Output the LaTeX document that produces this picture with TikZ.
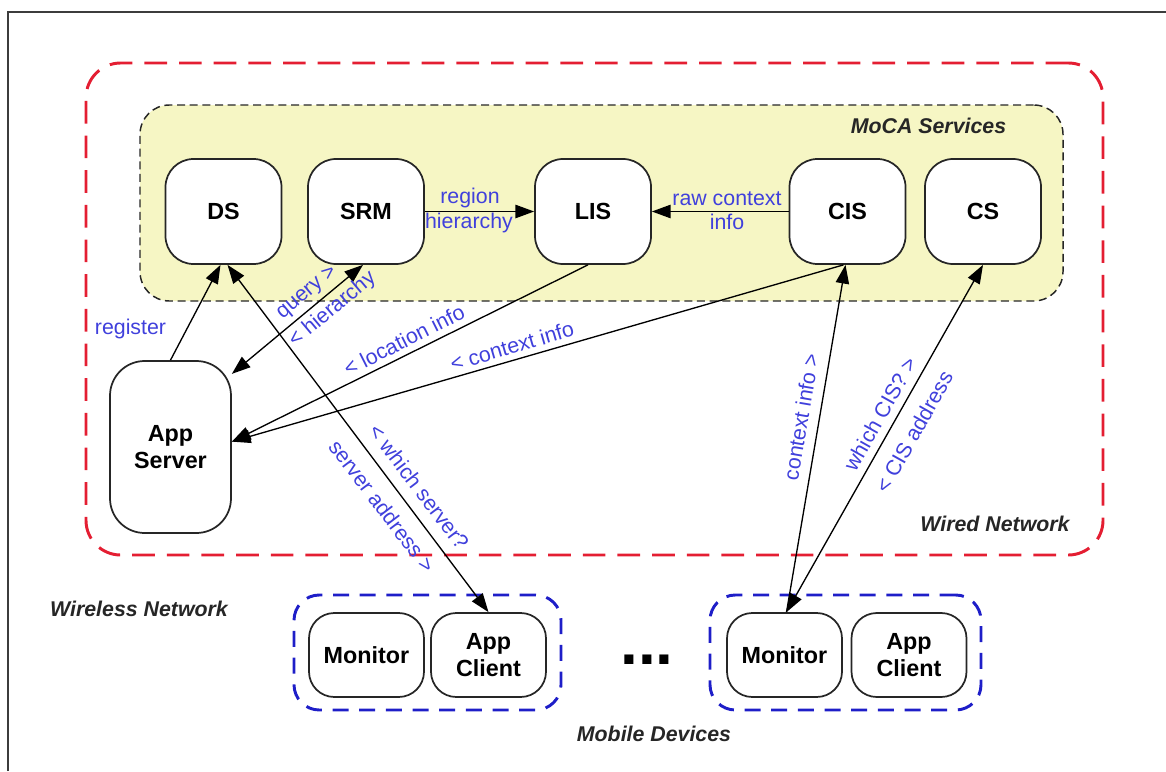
\documentclass[tikz,border=0pt]{standalone}
\usepackage{fontspec}
\setmainfont{Liberation Sans}
\usetikzlibrary{arrows.meta,calc}
\definecolor{labblue}{RGB}{64,64,220}
\definecolor{wiredred}{RGB}{228,30,50}
\definecolor{devblue}{RGB}{30,30,200}
\definecolor{mocafill}{RGB}{246,246,196}
\definecolor{framegray}{RGB}{60,60,60}
\begin{document}
\begin{tikzpicture}[x=0.75pt,y=-0.75pt,
  svc/.style={draw=black!85,line width=1.3pt,fill=white,rounded corners=21pt,
    minimum width=87pt,minimum height=78.75pt,inner sep=0pt,
    font=\fontsize{17.5}{20}\selectfont\bfseries,align=center},
  dev/.style={svc,minimum width=86.25pt,minimum height=63pt,rounded corners=19pt},
  lab/.style={text=labblue,font=\fontsize{16}{18}\selectfont,inner sep=0pt},
  area/.style={font=\fontsize{16}{18}\selectfont\bfseries\itshape,text=black!85,inner sep=0pt},
  conn/.style={draw=black,line width=1pt},
  tip/.style={-{Triangle[length=14pt,width=10pt]}},
  dtip/.style={{Triangle[length=14pt,width=10pt]}-{Triangle[length=14pt,width=10pt]}},
  rtip/.style={{Triangle[length=14pt,width=10pt]}-}
]
\useasboundingbox (0,0) rectangle (1166,771);
% frame
\draw[framegray,line width=1.6pt] (8,771) -- (8,12) -- (1166,12);
% wired network area
\node[draw=wiredred,line width=2.2pt,dash pattern=on 17pt off 9pt,rounded corners=26pt,
  minimum width=762.75pt,minimum height=369pt,inner sep=0pt] (wired) at (594.5,309) {};
% MoCA services area
\node[draw=black!85,fill=mocafill,line width=1.1pt,dash pattern=on 6pt off 3.5pt,rounded corners=22pt,
  minimum width=692.25pt,minimum height=147pt,inner sep=0pt] (moca) at (601.5,203) {};
% device areas
\node[draw=devblue,line width=2.2pt,dash pattern=on 12pt off 8pt,rounded corners=19pt,
  minimum width=200.25pt,minimum height=86.25pt,inner sep=0pt] (dev1) at (427.5,652.5) {};
\node[draw=devblue,line width=2.2pt,dash pattern=on 12pt off 8pt,rounded corners=19pt,
  minimum width=203.25pt,minimum height=86.25pt,inner sep=0pt] (dev2) at (845.5,652.5) {};
% area labels
\node[area] (mocalab) at (928.5,126) {MoCA Services};
\node[area] (wiredlab) at (995,524) {Wired Network};
\node[area] (wirelesslab) at (139,609) {Wireless Network};
\node[area] (mobilelab) at (654,734) {Mobile Devices};
% service nodes
\node[svc] (DS) at (223.5,211.5) {DS};
\node[svc] (SRM) at (366,211.5) {SRM};
\node[svc] (LIS) at (593,211.5) {LIS};
\node[svc] (CIS) at (847.5,211.5) {CIS};
\node[svc] (CS) at (983,211.5) {CS};
\node[svc,minimum width=90.75pt,minimum height=129pt,rounded corners=26pt] (AS) at (170.5,447) {App\\Server};
% device nodes
\node[dev] (Mon1) at (366.5,655) {Monitor};
\node[dev] (AC1) at (488.5,655) {App\\Client};
\node[dev] (Mon2) at (784.5,655) {Monitor};
\node[dev] (AC2) at (909,655) {App\\Client};
\node[font=\fontsize{48}{48}\selectfont\bfseries,inner sep=0pt,anchor=base] (dots) at (647,664) {...};
% connectors
\draw[conn,tip] (SRM.east) -- (LIS.west);
\draw[conn,tip] (CIS.west) -- (LIS.east);
\draw[conn,tip] (AS.north) -- ($(DS.south)+(-3,0)$);
\draw[conn,dtip] ($(DS.south)+(4,0)$) -- (AC1.north);
\draw[conn,dtip] ($(SRM.south)+(-3,0)$) -- (AS.50);
\draw[conn,tip] ($(LIS.south)+(-5,0)$) -- (AS.5);
\draw[conn,tip] ($(CIS.south)+(-4,0)$) -- (AS.5);
\draw[conn,rtip] ($(CIS.south)+(-2,0)$) -- ($(Mon2.north)+(2,0)$);
\draw[conn,dtip] (CS.south) -- ($(Mon2.north)+(2,0)$);
% connector labels
\node[lab] (lregion) at (470,198) {region};
\node[lab] (lhier) at (469,223) {hierarchy};
\node[lab] (lraw) at (727,199) {raw context};
\node[lab] (linfo) at (727,222) {info};
\node[lab] (lreg) at (130.5,329) {register};
\node[lab,rotate=-52.8] (lwhich) at (419,487) {< which server?};
\node[lab,rotate=-52.8] (lsaddr) at (382,506) {server address >};
\node[lab,rotate=39.9] (lquery) at (307.5,293) {query >};
\node[lab,rotate=39.9] (lhier2) at (332.5,309.5) {< hierarchy};
\node[lab,rotate=26.7] (lloc) at (404,340) {< location info};
\node[lab,rotate=16.3] (lctx) at (512,346) {< context info};
\node[lab,rotate=80.4] (lctx2) at (801,417) {context info >};
\node[lab,rotate=60.6] (lwcis) at (880,414) {which CIS? >};
\node[lab,rotate=60.6] (lcisaddr) at (914,432) {< CIS address};
\end{tikzpicture}
\end{document}
